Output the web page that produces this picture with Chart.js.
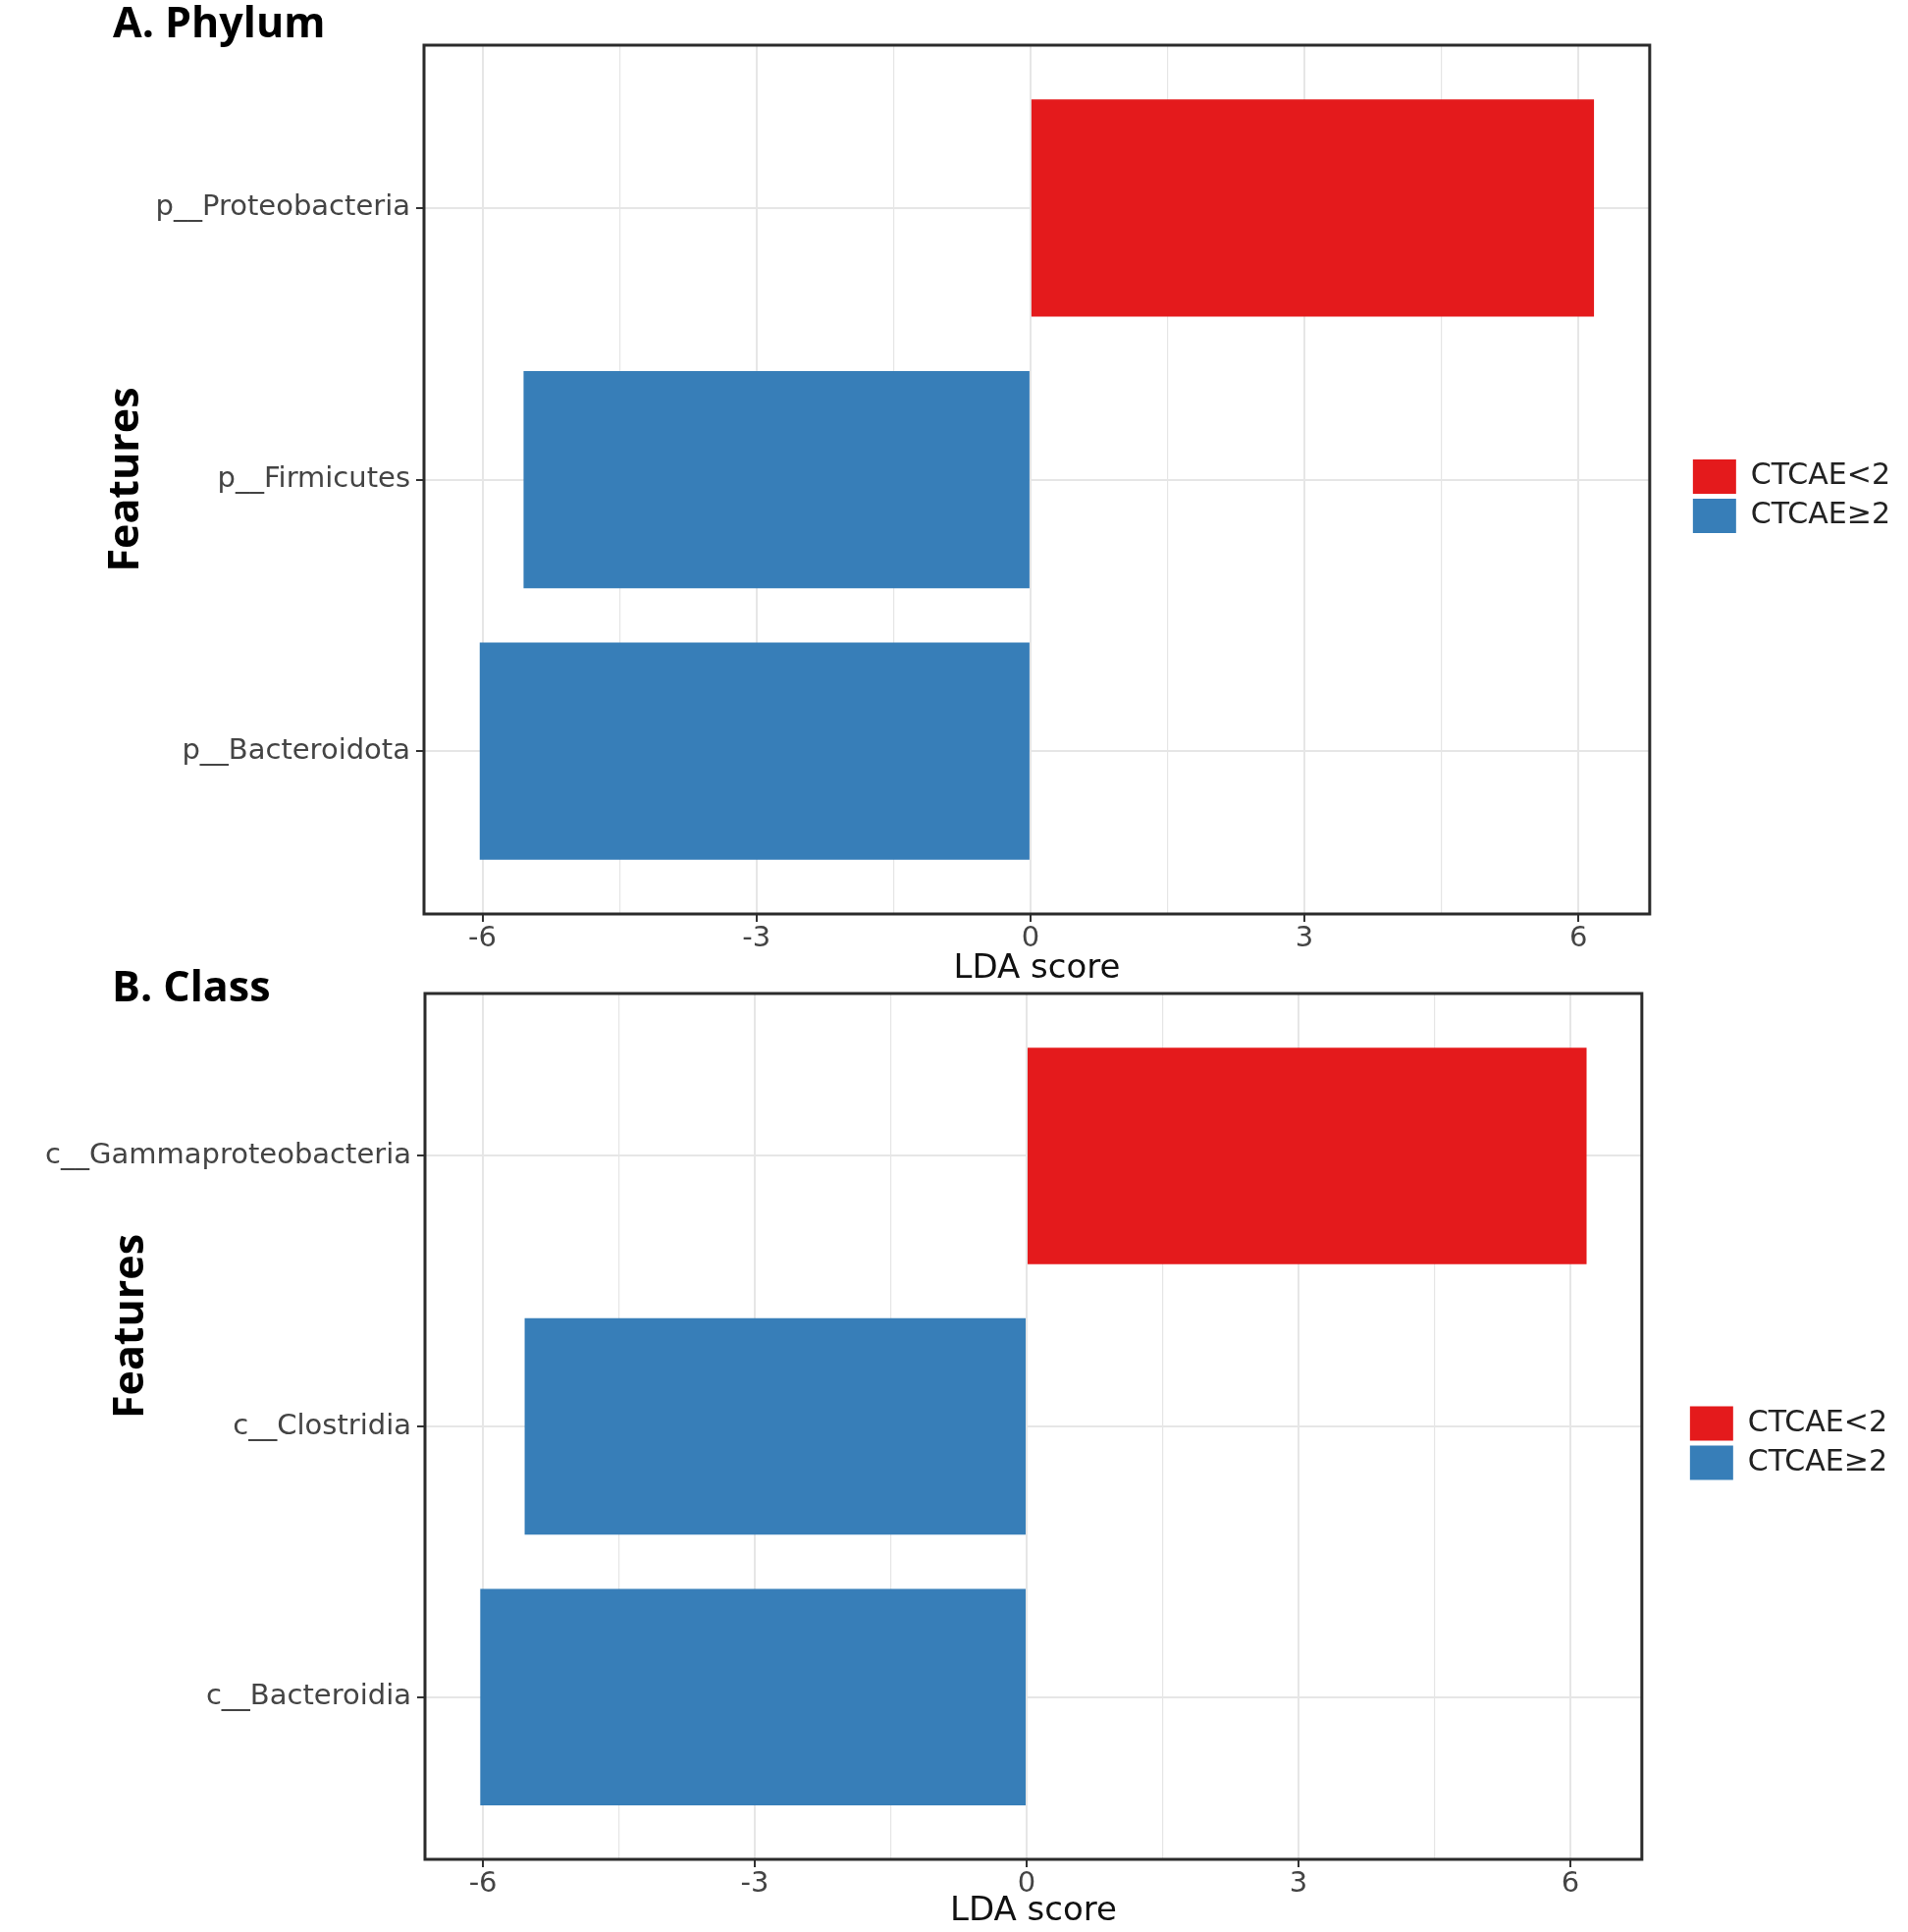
<!DOCTYPE html>
<html>
<head>
  <meta charset="utf-8" />
  <title>LDA score - Phylum and Class</title>
  <script src="https://cdn.jsdelivr.net/npm/chart.js@4.4.1/dist/chart.umd.min.js"></script>
  <style>
    body {
      margin: 0;
      width: 1944px;
      height: 1968px;
      overflow: hidden;
      background: white;
      position: relative;
    }
    canvas {
      position: absolute;
      left: 0;
    }
    #phylumChart { top: 0; }
    #classChart { top: 980px; }
    .panel-title {
      position: absolute;
      z-index: 2;
      font-family: "Open Sans";
      font-weight: bold;
      font-size: 43px;
      line-height: 43px;
      color: #000;
      white-space: nowrap;
    }
    /* y title of panel B sits higher than the panel centre, so it is placed by hand */
    .side-title {
      position: absolute;
      z-index: 2;
      width: 300px;
      text-align: center;
      font-family: "Open Sans";
      font-weight: bold;
      font-size: 43px;
      line-height: 52px;
      color: #000;
      transform: rotate(-90deg);
    }
  </style>
</head>
<body>
  <div class="panel-title" style="left:115px; top:0px;">A. Phylum</div>
  <div class="panel-title" style="left:114px; top:982px;">B. Class</div>
  <div class="side-title" style="left:-20px; top:1325px;">Features</div>

  <canvas id="phylumChart" width="1944" height="1008"></canvas>
  <canvas id="classChart" width="1944" height="988"></canvas>

  <script>
    // ---- data ----
    const groups = ["CTCAE<2", "CTCAE≥2"];
    const groupColors = ["#E41A1C", "#377EB8"];

    const phylumNames = ["p__Proteobacteria", "p__Firmicutes", "p__Bacteroidota"];
    const phylumScores = [6.17, -5.55, -6.03];
    const phylumGroups = ["CTCAE<2", "CTCAE≥2", "CTCAE≥2"];

    const classNames = ["c__Gammaproteobacteria", "c__Clostridia", "c__Bacteroidia"];
    const classScores = [6.18, -5.54, -6.03];
    const classGroups = ["CTCAE<2", "CTCAE≥2", "CTCAE≥2"];

    const scoreTicks = [-6, -4.5, -3, -1.5, 0, 1.5, 3, 4.5, 6]; // majors every 3, minors between
    const phylumLimits = [-6.64, 6.78];
    const classLimits = [-6.64, 6.79];

    const tickFont = { family: "DejaVu Sans", size: 29 };
    const gridGrey = "#e6e6e6";
    const tickGrey = "#333333";

    // the black box round each panel (theme_bw look)
    const panelFrame = {
      id: "panelFrame",
      afterDatasetsDraw(chart) {
        const { ctx, chartArea: a } = chart;
        ctx.save();
        ctx.strokeStyle = "#2b2b2b";
        ctx.lineWidth = 3;
        ctx.strokeRect(a.left, a.top, a.right - a.left, a.bottom - a.top);
        ctx.restore();
      },
    };

    // move the legend a bit away from the panel, centred like ggplot does
    const legendPlace = {
      id: "legendPlace",
      afterLayout(chart, args, opts) {
        const lg = chart.legend;
        const a = chart.chartArea;
        const w = lg.width;
        const h = lg.height;
        lg.left = a.right + opts.gap - lg.options.labels.padding;
        lg.right = lg.left + w;
        const cy = (a.top + a.bottom) / 2 + opts.dy;
        lg.top = cy - h / 2;
        lg.bottom = cy + h / 2;
      },
    };

    function makeDatasets(names, scores, groupOf) {
      return groups.map((g, gi) => ({
        label: g,
        backgroundColor: groupColors[gi],
        borderColor: groupColors[gi],
        borderWidth: 0,
        grouped: false,
        barPercentage: 0.8,
        categoryPercentage: 1,
        xAxisID: "x",
        yAxisID: "y",
        // top feature gets the highest position on the y axis
        data: names
          .map((n, i) => ({ y: names.length - i, x: scores[i], g: groupOf[i] }))
          .filter((d) => d.g === g),
      }));
    }

    function makeChart(id, names, scores, groupOf, limits, box) {
      const positions = names.map((n, i) => i + 1);
      return new Chart(document.getElementById(id), {
        type: "bar",
        data: { datasets: makeDatasets(names, scores, groupOf) },
        options: {
          indexAxis: "y",
          responsive: false,
          animation: false,
          layout: { padding: { top: box.top, left: box.left, right: box.right, bottom: 0 } },
          scales: {
            x: {
              type: "linear",
              min: limits[0],
              max: limits[1],
              afterBuildTicks: (ax) => {
                ax.ticks = scoreTicks.map((v) => ({ value: v }));
              },
              afterFit: (ax) => {
                ax.height = box.xHeight;
              },
              ticks: {
                autoSkip: false,
                maxRotation: 0,
                padding: 0,
                font: tickFont,
                color: "#444444",
                callback: (v) => (v % 3 === 0 ? String(v) : ""),
              },
              grid: {
                color: gridGrey,
                lineWidth: (c) => (c.tick && c.tick.value % 3 === 0 ? 2 : 1.2),
                tickColor: (c) => (c.tick && c.tick.value % 3 === 0 ? tickGrey : "rgba(0,0,0,0)"),
                tickLength: 8,
                tickWidth: 2,
              },
              border: { display: false },
              title: {
                display: true,
                text: "LDA score",
                font: { family: "DejaVu Sans", size: 34 },
                color: "#111111",
                padding: 0,
              },
            },
            y: {
              type: "linear",
              min: 0.4,
              max: 3.6,
              offset: false,
              afterBuildTicks: (ax) => {
                ax.ticks = positions.map((v) => ({ value: v }));
              },
              afterFit: (ax) => {
                ax.width = box.yWidth;
              },
              ticks: {
                autoSkip: false,
                padding: 6,
                font: tickFont,
                color: "#444444",
                callback: (v) => names[names.length - v],
              },
              grid: {
                offset: false,
                color: gridGrey,
                lineWidth: 2,
                tickColor: tickGrey,
                tickLength: 8,
                tickWidth: 2,
              },
              border: { display: false },
              title: {
                display: box.yTitle,
                text: "Features",
                font: { family: "Open Sans", size: 43, weight: "bold" },
                color: "#000000",
                padding: { top: 3, bottom: 0 },
              },
            },
          },
          plugins: {
            legend: {
              position: "right",
              align: "center",
              labels: {
                boxWidth: 44,
                boxHeight: 35,
                padding: 5,
                font: { family: "DejaVu Sans", size: 30 },
                color: "#222222",
              },
            },
            legendPlace: { gap: box.legendGap, dy: 17 },
            tooltip: { enabled: false },
          },
        },
        plugins: [panelFrame, legendPlace],
      });
    }

    makeChart("phylumChart", phylumNames, phylumScores, phylumGroups, phylumLimits, {
      top: 46, left: 100, right: 47, yWidth: 332, xHeight: 77, legendGap: 44, yTitle: true,
    });

    // panel B: "Features" is the html label above, so the axis gets the whole left margin
    makeChart("classChart", classNames, classScores, classGroups, classLimits, {
      top: 32, left: 0, right: 55, yWidth: 433, xHeight: 74, legendGap: 49, yTitle: false,
    });
  </script>
</body>
</html>
